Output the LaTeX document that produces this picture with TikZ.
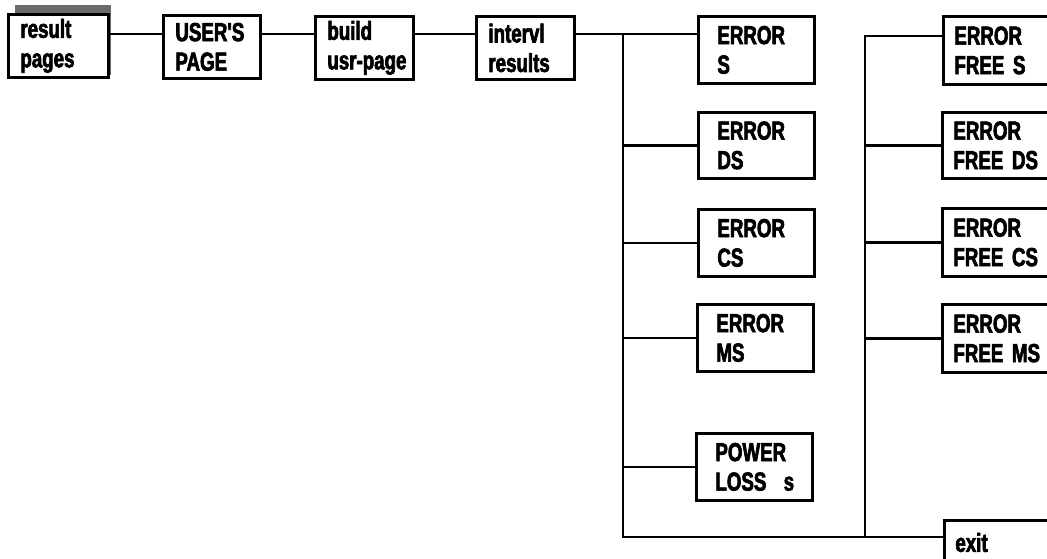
\documentclass[tikz,border=0pt]{standalone}
\usepackage{fontspec}
\newfontfamily\cf[FakeStretch=0.72,FakeBold=2.5]{Liberation Sans Bold}
\begin{document}
\begin{tikzpicture}[x=1pt,y=-1pt,
  bx/.style={draw, line width=2.8pt, fill=white, anchor=north west, align=left,
    inner ysep=0pt, font={\fontsize{26}{29.5}\cf\selectfont}},
  tbox/.style={bx, minimum height=63pt, inner xsep=12pt, text width=74pt},
  ebox/.style={bx, minimum height=67pt, inner xsep=19pt, text width=78pt},
  fbox/.style={bx, minimum height=68pt, inner xsep=11pt, text width=98pt},
  wire/.style={line width=2.4pt}]
\useasboundingbox (0,0) rectangle (1047,559);
\clip (0,0) rectangle (1047,559);
% shadow of first box
\fill[black!58] (15,5) rectangle (111,75);
% top row
\node[tbox, text width=76pt] (rp) at (7,13) {result\\pages};
\node[tbox, text width=73pt] (up) at (162,14) {USER'S\\PAGE};
\node[tbox] (bu) at (314,15) {build\\\mbox{usr-page}};
\node[tbox] (ir) at (475,15) {intervl\\results};
% error column
\node[ebox] (eS)  at (697,15)  {ERROR\\S};
\node[ebox, minimum height=66pt] (eDS) at (697,111) {ERROR\\DS};
\node[ebox] (eCS) at (697,208) {ERROR\\CS};
\node[ebox] (eMS) at (696,303) {ERROR\\MS};
\node[ebox] (ePL) at (695,432) {POWER\\LOSS~~s};
% error free column
\node[fbox] (fS)  at (942,15)  {ERROR\\FREE S};
\node[fbox, minimum height=66pt] (fDS) at (941,111) {ERROR\\FREE DS};
\node[fbox] (fCS) at (941,207) {ERROR\\FREE CS};
\node[fbox] (fMS) at (941,303) {ERROR\\FREE MS};
\node[fbox, minimum height=70pt, text depth=26pt] (ex) at (943,519) {exit};
% junction points
\coordinate (row) at (0,34);
\coordinate (t1top) at (623,34);
\coordinate (t1bot) at (623,537);
\coordinate (t2top) at (865,36);
\coordinate (t2bot) at (865,537);
% connectors
\draw[wire] (rp.east |- row) -- (up.west |- row);
\draw[wire] (up.east |- row) -- (bu.west |- row);
\draw[wire] (bu.east |- row) -- (ir.west |- row);
\draw[wire] (ir.east |- row) -- (eS.west |- row);
\draw[wire] (t1top) -- (t1bot) -- (t2bot) -- (ex.west |- t2bot);
\draw[wire] (t1top |- eDS.west) -- (eDS.west);
\draw[wire] (t1top |- eCS.west) -- (eCS.west);
\draw[wire] (t1top |- eMS.west) -- (eMS.west);
\draw[wire] (t1top |- ePL.west) -- (ePL.west);
\draw[wire] (t2bot) -- (t2top) -- (fS.west |- t2top);
\draw[wire] (t2top |- fDS.west) -- (fDS.west);
\draw[wire] (t2top |- fCS.west) -- (fCS.west);
\draw[wire] (t2top |- fMS.west) -- (fMS.west);
\end{tikzpicture}
\end{document}
